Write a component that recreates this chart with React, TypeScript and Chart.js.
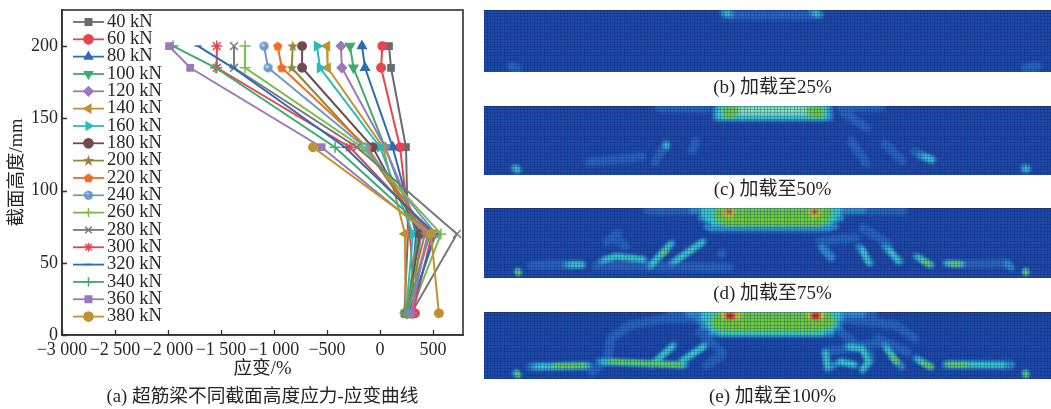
import React, { useEffect, useRef } from "react";
import { Chart, registerables } from "chart.js";
Chart.register(...registerables);

const SERIF = '"Liberation Serif", "Noto Sans CJK SC", serif';
const INK = "#262626";

const heights = [200, 185, 130, 70, 15];
const xTickValues = [-3000, -2500, -2000, -1500, -1000, -500, 0, 500];
const yTickValues = [0, 50, 100, 150, 200];
const loads = ["40 kN", "60 kN", "80 kN", "100 kN", "120 kN", "140 kN", "160 kN", "180 kN", "200 kN", "220 kN", "240 kN", "260 kN", "280 kN", "300 kN", "320 kN", "340 kN", "360 kN", "380 kN"];
const s40 = [85, 104, 245, 264, 230];
const s60 = [22, 10, 189, 283, 330];
const s80 = [-170, -141, 120, 340, 280];
const s100 = [-283, -250, 47, 358, 250];
const s120 = [-368, -360, 47, 387, 300];
const s140 = [-500, -495, 28, 236, 240];
const s160 = [-594, -566, 0, 311, 245];
const s180 = [-735, -735, -69, 377, 255];
const s200 = [-823, -833, -141, 424, 235];
const s220 = [-965, -927, -122, 453, 260];
const s240 = [-1094, -1056, -141, 528, 270];
const s260 = [-1273, -1273, -170, 575, 285];
const s280 = [-1377, -1377, -217, 726, 295];
const s300 = [-1540, -1540, -283, 490, 310];
const s320 = [-1716, -1386, -330, 519, 275];
const s340 = [-1952, -1550, -424, 472, 250];
const s360 = [-1990, -1791, -550, 453, 290];
const s380 = [null, null, -632, 481, 556];
const strains = [s40, s60, s80, s100, s120, s140, s160, s180, s200, s220, s240, s260, s280, s300, s320, s340, s360, s380];
const colors = ["#6b6b6d", "#e8434f", "#2b6cb5", "#3dab6e", "#9a79b9", "#bf9232", "#2abcb9", "#6f4a52", "#8d8b3b", "#f26b23", "#6a9ac9", "#77bd48", "#78787b", "#e8434f", "#2b6cb5", "#3dab6e", "#9a79b9", "#bf9232"];

const xTicksText = (v: number) => {
  const a = Math.abs(v);
  const t = a >= 1000 ? `${Math.floor(a / 1000)} ${String(a % 1000).padStart(3, "0")}` : String(a);
  return (v < 0 ? "\u2212" : "") + t;
};

function shapeCanvas(kind: string, color: string) {
  const c = document.createElement("canvas");
  c.width = 13;
  c.height = 13;
  const g = c.getContext("2d")!;
  g.fillStyle = color;
  if (kind === "ball") {
    g.beginPath();
    g.arc(6.5, 6.5, 4.6, 0, Math.PI * 2);
    g.fill();
    g.fillStyle = "#b9d2ea";
    g.beginPath();
    g.arc(5.5, 5.5, 1.8, 0, Math.PI * 2);
    g.fill();
    return c;
  }
  const n = kind === "star" ? 10 : 5;
  g.beginPath();
  for (let i = 0; i < n; i++) {
    const r = kind === "star" ? (i % 2 ? 2.4 : 6) : 4.9;
    const a = -Math.PI / 2 + (i * 2 * Math.PI) / n;
    g.lineTo(6.5 + r * Math.cos(a), 6.8 + r * Math.sin(a));
  }
  g.closePath();
  g.fill();
  return c;
}

function LeftChart() {
  const ref = useRef<HTMLCanvasElement>(null);
  useEffect(() => {
    const styles: any[] = ["rect", "circle", "triangle", "triangle", "rectRot", "triangle", "triangle", "circle", shapeCanvas("star", colors[8]), shapeCanvas("penta", colors[9]), shapeCanvas("ball", colors[10]), "cross", "crossRot", "star", "line", "cross", "rect", "circle"];
    const rotations = [0, 0, 0, 180, 0, -90, 90, 0, 0, 0, 0, 0, 0, 0, 0, 0, 0, 0];
    const radii = [4.4, 4.2, 5, 5, 4.6, 5, 5, 4.2, 5, 5, 5, 5.5, 5.5, 5.5, 3.5, 5.5, 4.4, 4.2];
    const LEG_SIZE = 18.5;
    const LEG_PAD = -1.17;
    const framePlugin = {
      id: "frame",
      afterLayout(chart: any) {
        chart.legend.left = 80.4;
        chart.legend.right = 400;
        chart.legend.top = 13.9;
        chart.legend.bottom = 400;
      },
      afterDraw(chart: any) {
        const { ctx, chartArea: a, legend, scales } = chart;
        ctx.save();
        ctx.strokeStyle = "#303030";
        ctx.lineWidth = 1.6;
        ctx.strokeRect(a.left, a.top, a.right - a.left, a.bottom - a.top);
        ctx.lineWidth = 1.3;
        ctx.beginPath();
        scales.x.ticks.forEach((t: any) => {
          const x = Math.round(scales.x.getPixelForValue(t.value)) + 0.5;
          ctx.moveTo(x, a.bottom);
          ctx.lineTo(x, a.bottom - 5);
        });
        scales.y.ticks.forEach((t: any) => {
          const y = Math.round(scales.y.getPixelForValue(t.value)) + 0.5;
          ctx.moveTo(a.left, y);
          ctx.lineTo(a.left + 5, y);
        });
        ctx.stroke();
        ctx.lineWidth = 1.8;
        chart.data.datasets.forEach((d: any, i: number) => {
          const y = legend.top + LEG_PAD + i * (LEG_SIZE + LEG_PAD) + LEG_SIZE / 2;
          ctx.strokeStyle = d.borderColor;
          ctx.beginPath();
          ctx.moveTo(73, y);
          ctx.lineTo(104, y);
          ctx.stroke();
        });
        ctx.restore();
      },
    };
    const chart = new Chart(ref.current!, {
      type: "scatter",
      data: {
        datasets: loads.map((label, i) => ({
          label,
          data: heights.map((y, k) => ({ x: strains[i][k], y })).filter((p) => p.x !== null),
          showLine: true,
          borderColor: colors[i],
          backgroundColor: colors[i],
          pointBackgroundColor: colors[i],
          pointBorderColor: colors[i],
          pointBorderWidth: 1.5,
          borderWidth: 2,
          pointStyle: styles[i],
          pointRotation: rotations[i],
          pointRadius: radii[i],
          order: loads.length - i,
          clip: false,
        })),
      } as any,
      options: {
        animation: false,
        responsive: false,
        devicePixelRatio: 1,
        layout: { padding: { top: 10, right: 7, left: 0, bottom: 0 } },
        plugins: {
          tooltip: { enabled: false },
          legend: {
            position: "chartArea",
            align: "start",
            labels: {
              usePointStyle: true,
              boxWidth: 21,
              boxHeight: 6.5,
              padding: LEG_PAD,
              color: INK,
              font: { family: SERIF, size: LEG_SIZE },
              sort: (a: any, b: any) => a.datasetIndex - b.datasetIndex,
            },
          },
        },
        scales: {
          x: {
            type: "linear",
            min: -3000,
            max: 783,
            afterBuildTicks: (s: any) => { s.ticks = xTickValues.map((value) => ({ value })); },
            afterFit: (s: any) => { s.height = 74; s.paddingLeft = 0; s.paddingRight = 0; },
            border: { display: true, color: "#303030", width: 1.5 },
            grid: { drawOnChartArea: false, drawTicks: false },
            ticks: { autoSkip: false, maxRotation: 0, minRotation: 0, padding: 4, color: INK, font: { family: SERIF, size: 18 }, callback: (v: any) => xTicksText(Number(v)) },
            title: { display: true, text: ["应变/%", "(a) 超筋梁不同截面高度应力-应变曲线"], color: INK, font: { family: SERIF, size: 18.7, lineHeight: 1.5 }, padding: { top: 0, bottom: -2 } },
          },
          y: {
            min: 0,
            max: 225,
            afterBuildTicks: (s: any) => { s.ticks = yTickValues.map((value) => ({ value })); },
            afterFit: (s: any) => { s.width = 62; s.paddingTop = 0; s.paddingBottom = 0; },
            border: { display: true, color: "#303030", width: 1.5 },
            grid: { drawOnChartArea: false, drawTicks: false },
            ticks: { padding: 4, color: INK, font: { family: SERIF, size: 18 } },
            title: { display: true, text: "截面高度/mm", color: INK, font: { family: SERIF, size: 18.5 }, padding: { top: 6, bottom: 0 } },
          },
        },
      } as any,
      plugins: [framePlugin],
    });
    return () => chart.destroy();
  }, []);
  return <canvas ref={ref} width={470} height={409} style={{ position: "absolute", left: 0, top: 0 }} />;
}

// Stress contour bands. Each polyline is x along the beam, depth below the top face.
const bWash = [[690, 16, 935, 16], [112, 172, 128, 178], [1500, 176, 1530, 172]];
const bBlue = [[685, 8, 705, 14], [925, 8, 945, 14]];
const bCyan = [[695, 10, 695, 14], [935, 10, 935, 14]];

const cWash = [[510, 5, 640, 8], [1000, 5, 1110, 2], [1010, 20, 1070, 65], [320, 167, 465, 152], [500, 167, 530, 112], [610, 105, 600, 132], [1030, 105, 1070, 172], [1120, 112, 1165, 162], [1200, 137, 1250, 162], [125, 187, 125, 188], [1500, 187, 1500, 188]];
const cBlue = [[665, 5, 970, 5, 970, 35, 665, 35, 665, 5], [665, 20, 970, 20], [530, 117, 530, 122], [1215, 147, 1245, 160], [120, 185, 130, 192], [1495, 185, 1505, 188]];
const cCyan = [[672, 6, 960, 6], [672, 16, 960, 16], [672, 26, 960, 26], [672, 33, 960, 33], [530, 117, 530, 119], [1228, 152, 1245, 160], [125, 187, 127, 190], [1500, 187, 1500, 190]];
const cMint = [[720, 6, 915, 6], [720, 14, 915, 14], [720, 22, 915, 22]];
const cGreen = [[685, 8, 720, 8], [685, 20, 720, 20], [690, 30, 715, 30], [915, 8, 950, 8], [915, 20, 950, 20], [918, 30, 950, 30]];

const dWash = [[480, 8, 1170, 8], [165, 174, 300, 170], [1340, 170, 1450, 167], [370, 102, 400, 77], [385, 90, 420, 115], [680, 137, 681, 137], [945, 100, 1040, 90], [1060, 60, 1130, 110], [950, 110, 975, 150], [340, 175, 700, 180]];
const dBlue = [[600, 6, 1060, 6], [625, 30, 1000, 30], [640, 55, 985, 55], [650, 62, 970, 62], [260, 172, 305, 172], [355, 162, 395, 147, 470, 157], [485, 177, 545, 107], [545, 167, 630, 102], [950, 120, 975, 150], [1050, 117, 1080, 167], [1120, 117, 1160, 162], [1205, 147, 1245, 172], [1285, 167, 1330, 170], [130, 192, 130, 193], [1500, 192, 1500, 193], [1460, 180, 1450, 170]];
const dCyan = [[630, 6, 995, 6], [630, 20, 995, 20], [640, 35, 985, 35], [655, 48, 970, 48], [270, 172, 300, 172], [365, 155, 395, 147, 465, 155], [490, 172, 540, 110], [555, 160, 625, 105], [1060, 125, 1075, 165], [1130, 125, 1155, 160], [1210, 150, 1240, 172], [1290, 168, 1325, 170], [130, 190, 130, 195], [1500, 190, 1500, 195]];
const dGreen = [[665, 5, 970, 5], [665, 14, 970, 14], [665, 23, 970, 23], [670, 32, 965, 32], [675, 41, 960, 41], [690, 50, 945, 50], [1225, 162, 1240, 170], [1300, 170, 1320, 170], [128, 192, 132, 198], [1498, 192, 1502, 198], [520, 140, 530, 130]];
const dYellow = [[685, 10, 715, 10], [690, 22, 710, 22], [915, 10, 945, 10], [920, 22, 940, 22]];
const dRed = [[697, 12, 703, 12], [927, 12, 933, 12]];

const eWash = [[540, 8, 1090, 8], [370, 150, 380, 80, 430, 40, 520, 20, 640, 20], [1000, 20, 1150, 40, 1200, 80], [620, 60, 680, 120], [1000, 60, 1080, 130], [680, 130, 640, 160], [330, 180, 350, 160], [1100, 80, 1180, 120], [160, 165, 320, 162], [1285, 160, 1460, 160], [960, 120, 1120, 90]];
const eBlue = [[590, 6, 1060, 6], [620, 25, 1000, 25], [630, 45, 995, 45], [650, 65, 975, 65], [170, 165, 320, 162], [350, 150, 580, 160], [490, 160, 550, 100], [570, 150, 635, 100], [960, 120, 965, 170, 1000, 150, 1040, 160], [1020, 105, 1060, 110, 1080, 150, 1060, 175], [1120, 100, 1150, 150, 1165, 165], [1205, 140, 1245, 165], [1285, 158, 1460, 160], [125, 185, 125, 186], [1500, 185, 1500, 186]];
const eCyan = [[630, 6, 995, 6], [630, 18, 995, 18], [640, 30, 985, 30], [645, 42, 985, 42], [655, 54, 975, 54], [675, 63, 950, 63], [180, 165, 315, 162], [360, 150, 575, 160], [495, 155, 545, 105], [575, 145, 630, 105], [960, 125, 965, 165], [1000, 150, 1035, 158], [1025, 105, 1060, 112, 1075, 150, 1060, 172], [1125, 110, 1150, 150], [1210, 145, 1240, 165], [1290, 158, 1440, 160], [125, 183, 130, 190], [1500, 183, 1500, 190]];
const eGreen = [[665, 6, 970, 6], [660, 16, 975, 16], [655, 26, 980, 26], [655, 36, 980, 36], [665, 46, 965, 46], [680, 54, 945, 54], [230, 163, 310, 162], [380, 148, 570, 160], [1140, 135, 1155, 150], [1225, 155, 1245, 165], [1290, 158, 1340, 160], [128, 185, 132, 192], [1498, 185, 1502, 192]];
const eYellow = [[680, 8, 730, 8], [685, 18, 725, 18], [910, 8, 955, 8], [915, 18, 950, 18]];
const eRed = [[695, 8, 710, 8], [695, 16, 710, 16], [925, 8, 940, 8], [925, 16, 940, 16]];

const levelColors = { wash: "#2767bd", blue: "#2f92d0", cyan: "#38cfc6", mint: "#86dfae", green: "#6dcb40", yellow: "#e6d02a", red: "#d81f1f" };
const levelWidths = { wash: 9, blue: 7, cyan: 5, mint: 3.4, green: 3.8, yellow: 2.8, red: 3.2 };
const captionB = "(b) 加载至25%";
const captionC = "(c) 加载至50%";
const captionD = "(d) 加载至75%";
const captionE = "(e) 加载至100%";

function bandPoints(lines: number[][]) {
  const pts: any[] = [];
  lines.forEach((l) => {
    for (let i = 0; i + 1 < l.length; i += 2) pts.push({ x: l[i], y: l[i + 1] });
    pts.push({ x: NaN, y: NaN });
  });
  return pts;
}

function HeatPanel({ top, bottom, depth, caption, gap, levels }: any) {
  const ref = useRef<HTMLCanvasElement>(null);
  useEffect(() => {
    const blurPlugin = {
      id: "soft",
      beforeDraw(chart: any) {
        const { ctx, chartArea: a } = chart;
        ctx.save();
        ctx.fillStyle = "#1c4aa6";
        ctx.fillRect(a.left, a.top, a.right - a.left, a.bottom - a.top);
        ctx.restore();
      },
      beforeDatasetsDraw(chart: any) { chart.ctx.filter = "blur(1.6px)"; },
      afterDatasetsDraw(chart: any) { chart.ctx.filter = "none"; },
    };
    const names = Object.keys(levels);
    const chart = new Chart(ref.current!, {
      type: "scatter",
      data: {
        datasets: names.map((n, i) => ({
          label: n,
          data: bandPoints(levels[n]),
          showLine: true,
          spanGaps: false,
          borderColor: (levelColors as any)[n],
          borderWidth: (levelWidths as any)[n],
          borderCapStyle: "round",
          borderJoinStyle: "round",
          pointRadius: 0,
          order: names.length - i,
          clip: 0,
        })),
      } as any,
      options: {
        animation: false,
        responsive: false,
        devicePixelRatio: 1,
        layout: { padding: 0 },
        plugins: { legend: { display: false }, tooltip: { enabled: false } },
        scales: {
          x: {
            type: "linear",
            min: 38,
            max: 1595,
            afterFit: (s: any) => { s.height = 28; s.paddingLeft = 0; s.paddingRight = 0; },
            border: { display: true, color: "#1a2a55", width: 1 },
            grid: { z: 1, drawTicks: false, color: "rgba(18,32,112,0.26)", lineWidth: 1 },
            ticks: { display: false, stepSize: 9, autoSkip: false, includeBounds: false },
            title: { display: true, text: caption, color: INK, font: { family: SERIF, size: 19, lineHeight: 1.2 }, padding: { top: 0, bottom: gap } },
          },
          y: {
            min: 0,
            max: depth,
            reverse: true,
            afterFit: (s: any) => { s.width = 14; s.paddingTop = 0; s.paddingBottom = 0; },
            border: { display: false },
            grid: { z: 1, drawTicks: false, color: "rgba(18,32,112,0.26)", lineWidth: 1 },
            ticks: { display: false, stepSize: 10, autoSkip: false, includeBounds: false },
          },
        },
      } as any,
      plugins: [blurPlugin],
    });
    return () => chart.destroy();
  }, []);
  return <canvas ref={ref} width={591} height={bottom - top + 28} style={{ position: "absolute", left: 470, top }} />;
}

export default function App() {
  return (
    <div style={{ position: "absolute", left: 0, top: 0, width: 1051, height: 409, overflow: "hidden", background: "#fff" }}>
      <LeftChart />
      <HeatPanel top={10} bottom={72} depth={189} caption={captionB} gap={1} levels={{ wash: bWash, blue: bBlue, cyan: bCyan }} />
      <HeatPanel top={106} bottom={175} depth={206} caption={captionC} gap={2} levels={{ wash: cWash, blue: cBlue, cyan: cCyan, mint: cMint, green: cGreen }} />
      <HeatPanel top={208} bottom={278} depth={212} caption={captionD} gap={1} levels={{ wash: dWash, blue: dBlue, cyan: dCyan, green: dGreen, yellow: dYellow, red: dRed }} />
      <HeatPanel top={312} bottom={379} depth={202} caption={captionE} gap={-1} levels={{ wash: eWash, blue: eBlue, cyan: eCyan, green: eGreen, yellow: eYellow, red: eRed }} />
    </div>
  );
}
